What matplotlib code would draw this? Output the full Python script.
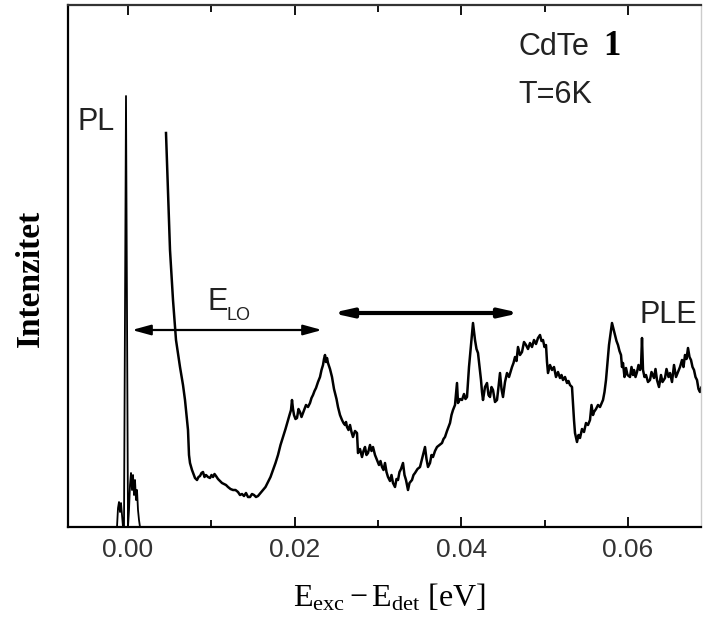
import numpy as np
import matplotlib
matplotlib.use("Agg")
import matplotlib.pyplot as plt

plt.rcParams['mathtext.fontset'] = 'custom'
plt.rcParams['mathtext.rm'] = 'Liberation Serif'
plt.rcParams['mathtext.it'] = 'Liberation Serif:italic'
plt.rcParams['mathtext.bf'] = 'Liberation Serif:bold'

# PL line (energy in meV, intensity a.u.)
pl_mev = [-1.56, -1.32, -1.2, -1.08, -0.96, -0.84, -0.72, -0.6, -0.48, -0.24, 0.0,
          0.12, 0.24, 0.36, 0.48, 0.6, 0.72, 0.84, 0.96, 1.08, 1.2, 1.32, 1.44]
pl_int = [0, 0, 19, 25, 15, 24, 12, 0, 0, 431, 0,
          17, 42, 54, 37, 52, 32, 47, 27, 37, 17, 7, 0]

# PLE spectrum, rows of ten
ple_mev = [4.56, 4.80, 5.04, 5.40, 5.76, 6.24, 6.60, 6.84, 7.08, 7.20,
           7.32, 7.44, 7.68, 8.04, 8.28, 8.46, 8.64, 8.82, 9.00, 9.18,
           9.36, 9.60, 9.84, 10.02, 10.20, 10.38, 10.56, 10.80, 11.04, 11.28,
           11.52, 11.76, 12.00, 12.30, 12.60, 12.90, 13.20, 13.44, 13.68, 13.92,
           14.16, 14.40, 14.64, 14.88, 15.12, 15.36, 15.60, 15.90, 16.20, 16.50,
           16.80, 17.10, 17.40, 17.70, 18.00, 18.30, 18.60, 18.90, 19.20, 19.38,
           19.56, 19.68, 19.80, 19.92, 20.10, 20.28, 20.46, 20.64, 20.82, 21.00,
           21.18, 21.36, 21.60, 21.84, 22.02, 22.20, 22.38, 22.56, 22.80, 23.04,
           23.22, 23.40, 23.52, 23.64, 23.76, 23.88, 24.00, 24.24, 24.48, 24.72,
           24.84, 25.02, 25.20, 25.44, 25.68, 25.86, 26.04, 26.16, 26.28, 26.46,
           26.64, 26.82, 27.00, 27.24, 27.48, 27.60, 27.84, 28.08, 28.26, 28.44,
           28.62, 28.80, 29.04, 29.22, 29.40, 29.64, 29.88, 30.12, 30.30, 30.48,
           30.66, 30.84, 31.02, 31.20, 31.44, 31.62, 31.80, 32.04, 32.22, 32.40,
           32.58, 32.76, 33.00, 33.18, 33.36, 33.60, 33.78, 34.08, 34.26, 34.44,
           34.74, 35.04, 35.28, 35.46, 35.64, 35.82, 36.00, 36.24, 36.42, 36.60,
           36.84, 37.08, 37.38, 37.68, 37.86, 38.04, 38.28, 38.46, 38.64, 38.82,
           39.00, 39.24, 39.48, 39.60, 39.84, 40.08, 40.32, 40.50, 40.68, 40.92,
           41.16, 41.40, 41.64, 41.82, 42.00, 42.18, 42.36, 42.48, 42.60, 42.84,
           43.08, 43.26, 43.44, 43.62, 43.80, 44.04, 44.28, 44.46, 44.64, 44.82,
           45.00, 45.24, 45.48, 45.72, 46.08, 46.26, 46.44, 46.62, 46.80, 47.04,
           47.28, 47.52, 47.76, 48.00, 48.24, 48.48, 48.72, 48.96, 49.20, 49.44,
           49.62, 49.80, 49.98, 50.16, 50.28, 50.40, 50.64, 50.88, 51.12, 51.36,
           51.60, 51.84, 52.02, 52.20, 52.44, 52.68, 52.86, 53.04, 53.28, 53.52,
           53.64, 53.88, 54.06, 54.24, 54.48, 54.72, 54.96, 55.20, 55.44, 55.62,
           55.80, 55.92, 56.16, 56.40, 56.64, 57.00, 57.18, 57.36, 57.54, 57.72,
           58.08, 58.26, 58.44, 58.62, 58.80, 58.98, 59.16, 59.28, 59.40, 59.58,
           59.76, 59.94, 60.24, 60.42, 60.60, 60.72, 60.90, 61.08, 61.26, 61.44,
           61.56, 61.68, 61.80, 61.98, 62.16, 62.40, 62.64, 62.82, 63.12, 63.30,
           63.48, 63.72, 63.96, 64.14, 64.44, 64.62, 64.86, 65.04, 65.28, 65.52,
           65.76, 66.00, 66.24, 66.48, 66.66, 66.84, 67.02, 67.20, 67.38, 67.56,
           67.74, 67.92, 68.10, 68.28, 68.46, 68.64, 68.82, 69.00, 69.48]
ple_int = [394, 337, 277, 227, 187, 160, 142, 127, 107, 97,
           72, 64, 57, 49, 47, 50, 51, 54, 55, 50,
           52, 50, 49, 52, 50, 53, 51, 48, 46, 44,
           43, 42, 40, 38, 37, 37, 35, 32, 33, 31,
           34, 30, 30, 33, 32, 30, 31, 34, 37, 40,
           45, 50, 57, 64, 72, 82, 90, 98, 107, 112,
           117, 127, 118, 112, 108, 109, 118, 115, 110, 114,
           118, 122, 120, 124, 129, 132, 136, 139, 145, 150,
           157, 162, 168, 172, 165, 169, 164, 158, 150, 138,
           134, 128, 120, 112, 107, 104, 102, 105, 100, 97,
           102, 95, 90, 96, 94, 74, 78, 70, 76, 80,
           72, 74, 82, 76, 80, 72, 67, 62, 66, 60,
           57, 64, 55, 50, 46, 52, 44, 40, 48, 47,
           55, 58, 64, 52, 47, 37, 44, 47, 52, 54,
           58, 60, 68, 74, 80, 68, 60, 64, 72, 70,
           76, 80, 82, 84, 88, 90, 96, 100, 104, 112,
           117, 122, 144, 124, 128, 127, 133, 128, 130, 160,
           182, 204, 187, 178, 174, 160, 147, 135, 127, 140,
           144, 132, 130, 140, 137, 125, 127, 140, 154, 138,
           130, 145, 154, 150, 160, 164, 170, 166, 180, 172,
           175, 185, 182, 178, 184, 180, 187, 183, 189, 192,
           186, 187, 180, 182, 165, 154, 162, 157, 160, 150,
           155, 149, 152, 147, 150, 144, 146, 142, 140, 107,
           94, 85, 92, 89, 98, 95, 104, 102, 107, 122,
           112, 115, 118, 122, 120, 127, 135, 147, 165, 182,
           204, 198, 192, 186, 182, 176, 172, 160, 164, 150,
           159, 152, 150, 160, 152, 157, 150, 155, 162, 157,
           160, 189, 157, 150, 152, 145, 147, 155, 149, 158,
           147, 140, 152, 145, 149, 158, 150, 154, 145, 162,
           150, 155, 160, 167, 160, 172, 168, 179, 170, 167,
           160, 157, 150, 147, 138, 135, 140, 130, 140]

# arrows: (start meV, end meV, height)
elo_arrow = (0.48, 23.28, 197)
second_arrow = (24.48, 47.04, 214)

xticks = [0.0, 0.02, 0.04, 0.06]
xticklabels = ['0.00', '0.02', '0.04', '0.06']
minor_ticks = [0.01, 0.03, 0.05]

fig = plt.figure(figsize=(7.07, 6.2), dpi=100)
ax = fig.add_axes([68 / 707, 93 / 620, 633 / 707, 522 / 620])

ax.plot(np.array(pl_mev) / 1000, pl_int, color='black', lw=1.3)
ax.plot(np.array(ple_mev) / 1000, ple_int, color='black', lw=1.8)

for a, lw, hw in [(elo_arrow, 1.6, 0.22), (second_arrow, 3.0, 0.18)]:
    ax.annotate('', xy=(a[1] / 1000, a[2]), xytext=(a[0] / 1000, a[2]),
                arrowprops=dict(arrowstyle='<|-|>,head_length=0.8,head_width=%g' % hw,
                                lw=lw, color='black', shrinkA=0, shrinkB=0,
                                mutation_scale=14))

ax.set_xlim(-0.0072, 0.06876)
ax.set_ylim(0, 522)
ax.set_xticks(xticks)
ax.set_xticklabels(xticklabels, family='Liberation Sans', fontsize=19, color='#333333')
ax.set_xticks(minor_ticks, minor=True)
ax.set_yticks([])
ax.tick_params(which='both', direction='in', top=True, bottom=True, width=1.3, pad=8)
ax.tick_params(which='major', length=7)
ax.tick_params(which='minor', length=5)
for s in ['left', 'bottom', 'top']:
    ax.spines[s].set_linewidth(1.6)
ax.spines['top'].set_color('#333333')
ax.spines['right'].set_color('#cccccc')
ax.spines['right'].set_linewidth(1.0)

sans = 'Liberation Sans'
ax.text(-0.0060, 405, 'PL', family=sans, fontsize=22, va='center', ha='left', color='#222222')
ax.text(0.00948, 217, 'E', family=sans, fontsize=22, va='baseline', ha='left', color='#222222')
ax.text(0.01188, 207, 'LO', family=sans, fontsize=13, va='baseline', ha='left', color='#222222')
ax.text(0.06144, 204, 'PLE', family=sans, fontsize=22, va='baseline', ha='left', color='#222222')
ax.text(0.711, 0.904, 'CdTe', transform=ax.transAxes, family=sans, fontsize=22,
        va='baseline', ha='left', color='#222222')
ax.text(0.846, 0.904, '1', transform=ax.transAxes, family='Liberation Serif',
        fontweight='bold', fontsize=25, va='baseline', ha='left')
ax.text(0.711, 0.812, 'T=6K', transform=ax.transAxes, family=sans, fontsize=22,
        va='baseline', ha='left', color='#222222')

fig.text(30 / 707, 1 - 278 / 620, 'Intenzitet', family='Liberation Serif',
         fontweight='bold', fontsize=24, rotation=90, ha='center', va='center')
fig.text(389 / 707, 1 - 598 / 620,
         r'$\mathrm{E}_{\mathrm{exc}} - \mathrm{E}_{\mathrm{det}}\ [\mathrm{eV}]$',
         fontsize=23, ha='center', va='center')

fig.savefig('out.png', dpi=100)
